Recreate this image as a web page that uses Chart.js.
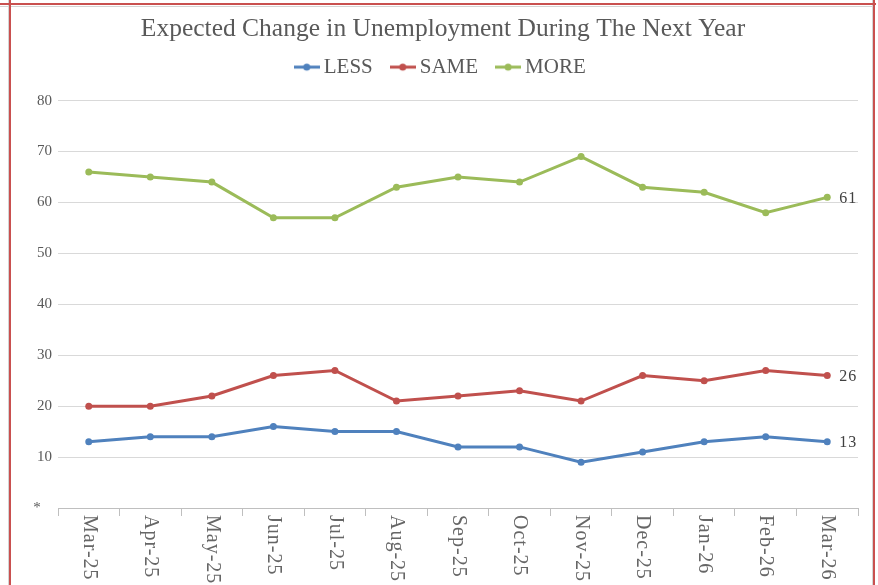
<!DOCTYPE html>
<html>
<head>
<meta charset="utf-8">
<script src="https://cdn.jsdelivr.net/npm/chart.js@4.4.1/dist/chart.umd.min.js"></script>
<style>
    html, body { margin: 0; padding: 0; background: #fff; overflow: hidden; }
    #wrap { position: relative; width: 878px; height: 585px; }
    #wrap canvas { position: absolute; left: 0; top: 0; }
    .rule { position: absolute; background: #c9504f; }
    .shade { position: absolute; background: #d4d4d4; }
</style>
</head>
<body>
<div id="wrap">
    <canvas id="myChart" width="878" height="585"></canvas>
    <div class="shade" style="left:0;top:6px;width:872px;height:1px"></div>
    <div class="shade" style="left:8px;top:0;width:1px;height:585px"></div>
    <div class="shade" style="left:872px;top:0;width:1px;height:585px"></div>
    <div class="rule" style="left:0;top:3px;width:876px;height:2px"></div>
    <div class="rule" style="left:9px;top:0;width:2px;height:585px"></div>
    <div class="rule" style="left:873px;top:0;width:2px;height:585px"></div>
</div>
<script>
const months = ["Mar-25", "Apr-25", "May-25", "Jun-25", "Jul-25", "Aug-25", "Sep-25",
    "Oct-25", "Nov-25", "Dec-25", "Jan-26", "Feb-26", "Mar-26"];
const lessValues = [13, 14, 14, 16, 15, 15, 12, 12, 9, 11, 13, 14, 13];
const sameValues = [20, 20, 22, 26, 27, 21, 22, 23, 21, 26, 25, 27, 26];
const moreValues = [66, 65, 64, 57, 57, 63, 65, 64, 69, 63, 62, 58, 61];
const yTicks = [0, 10, 20, 30, 40, 50, 60, 70, 80];

const SERIF = "'Liberation Serif', 'DejaVu Serif', serif";
const TEXT = "#595959";
const LEGEND_GAP = 13; // extra room between legend and plot

// legend marker: short line with a dot in the middle
function legendMarker(color) {
    const c = document.createElement("canvas");
    c.width = 26;
    c.height = 10;
    const g = c.getContext("2d");
    g.strokeStyle = color;
    g.lineWidth = 3;
    g.beginPath();
    g.moveTo(0, 5);
    g.lineTo(26, 5);
    g.stroke();
    g.fillStyle = color;
    g.beginPath();
    g.arc(13, 5, 3.5, 0, Math.PI * 2);
    g.fill();
    return c;
}

// x labels read top-to-bottom, Chart.js only rotates the other way
const xLabelPlugin = {
    id: "xLabels",
    afterDraw(chart) {
        const ctx = chart.ctx;
        const x = chart.scales.x;
        ctx.save();
        ctx.font = "20px " + SERIF;
        ctx.letterSpacing = "1px";
        ctx.fillStyle = "#666";
        ctx.textAlign = "left";
        ctx.textBaseline = "middle";
        months.forEach((m, i) => {
            ctx.save();
            ctx.translate(x.getPixelForValue(i), x.top + 7);
            ctx.rotate(Math.PI / 2);
            ctx.fillText(m, 0, 0);
            ctx.restore();
        });
        ctx.restore();
    },
};

// value labels on the last point only
const endLabelPlugin = {
    id: "endLabels",
    afterDatasetsDraw(chart) {
        const ctx = chart.ctx;
        ctx.save();
        ctx.font = "16px " + SERIF;
        ctx.letterSpacing = "1px";
        ctx.fillStyle = "#404040";
        ctx.textAlign = "left";
        ctx.textBaseline = "middle";
        chart.data.datasets.forEach((ds, i) => {
            const pts = chart.getDatasetMeta(i).data;
            const last = pts[pts.length - 1];
            ctx.fillText(ds.data[ds.data.length - 1], last.x + 12, last.y + 1);
        });
        ctx.restore();
    },
};

// push the plot area down a bit below the legend
const legendGapPlugin = {
    id: "legendGap",
    beforeUpdate(chart) {
        const lg = chart.legend;
        if (lg && !lg._gapPatched) {
            const fit = lg.fit;
            lg.fit = function () {
                fit.call(this);
                this.height += LEGEND_GAP;
            };
            lg._gapPatched = true;
        }
    },
};

function series(label, data, color) {
    return {
        label: label,
        data: data,
        borderColor: color,
        backgroundColor: color,
        borderWidth: 3,
        pointRadius: 3.5,
        pointBackgroundColor: color,
        pointBorderWidth: 0,
        pointStyle: "circle",
        tension: 0,
        fill: false,
    };
}

const ctx = document.getElementById("myChart").getContext("2d");
const myChart = new Chart(ctx, {
    type: "line",
    data: {
        labels: months,
        datasets: [
            series("LESS", lessValues, "#4f81bd"),
            series("SAME", sameValues, "#c0504d"),
            series("MORE", moreValues, "#9bbb59"),
        ],
    },
    options: {
        responsive: false,
        animation: false,
        layout: { padding: { left: 28, right: 20, top: 0, bottom: 0 } },
        scales: {
            x: {
                offset: true,
                grid: {
                    offset: true,
                    drawOnChartArea: false,
                    drawTicks: true,
                    tickLength: 8,
                    color: "#bfbfbf",
                },
                border: { display: true, color: "#bfbfbf" },
                ticks: { display: false },
                afterFit(scale) { scale.height = 77; },
            },
            y: {
                min: 0,
                max: 80,
                afterBuildTicks(scale) {
                    scale.ticks = yTicks.map(v => ({ value: v }));
                },
                grid: { color: "#d9d9d9", drawTicks: false },
                border: { display: false },
                ticks: {
                    padding: 6,
                    color: TEXT,
                    font: { size: 15, family: SERIF },
                    callback: v => (v === 0 ? "*   " : v),
                },
                afterFit(scale) { scale.width = 30; },
            },
        },
        plugins: {
            title: {
                display: true,
                text: "Expected Change in Unemployment During The Next Year",
                color: TEXT,
                font: { size: 25.5, family: SERIF, weight: "normal" },
                padding: { top: 14, bottom: -11.5 },
            },
            legend: {
                display: true,
                labels: {
                    usePointStyle: true,
                    pointStyleWidth: 13,
                    color: TEXT,
                    font: { size: 21, family: SERIF },
                    padding: 23.5,
                    generateLabels(chart) {
                        const items = Chart.defaults.plugins.legend.labels.generateLabels(chart);
                        items.forEach(it => {
                            it.pointStyle = legendMarker(chart.data.datasets[it.datasetIndex].borderColor);
                        });
                        return items;
                    },
                },
            },
            tooltip: { enabled: false },
        },
    },
    plugins: [xLabelPlugin, endLabelPlugin, legendGapPlugin],
});
</script>
</body>
</html>
